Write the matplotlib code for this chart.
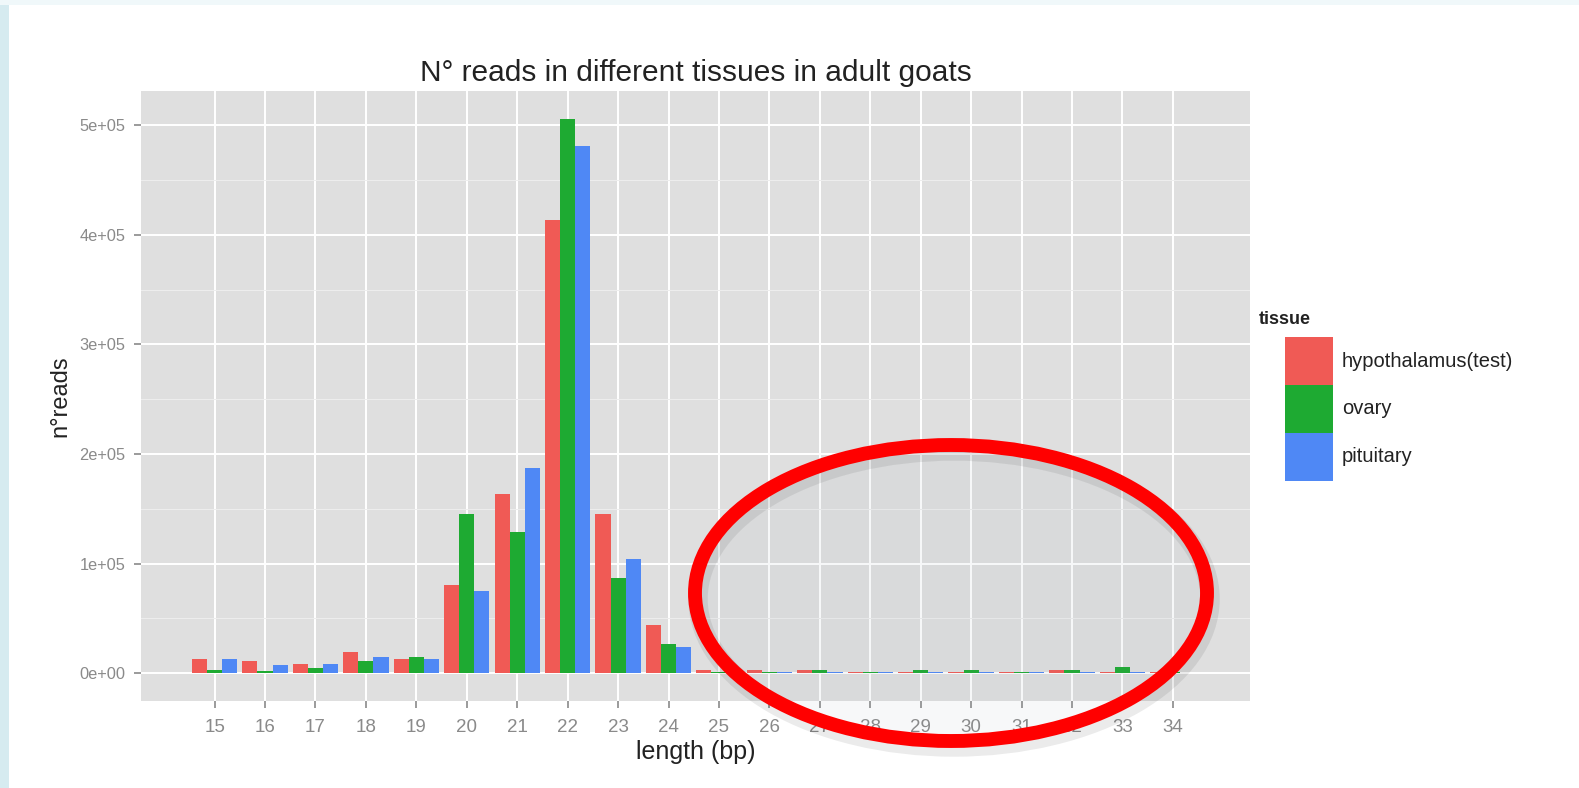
import numpy as np
import matplotlib
matplotlib.use("Agg")
import matplotlib.pyplot as plt
from matplotlib.patches import Rectangle, Ellipse

plt.rcParams['font.family'] = ['Liberation Sans', 'DejaVu Sans']

# ---------------- data ----------------
lengths = [15, 16, 17, 18, 19, 20, 21, 22, 23, 24, 25, 26, 27, 28, 29, 30, 31, 32, 33, 34]
tissues = ["hypothalamus(test)", "ovary", "pituitary"]
hypothalamus = [12800, 11000, 8900, 19000, 12800, 81000, 164000, 414000, 145000, 44000,
                3000, 3000, 3000, 1500, 1200, 1200, 1500, 3300, 1000, 800]
ovary = [3000, 2400, 5200, 11000, 14700, 145000, 129000, 506000, 87000, 27000,
         1200, 1000, 3000, 1500, 3300, 3300, 1500, 3000, 5500, 900]
pituitary = [12800, 7300, 8900, 14700, 12800, 75000, 187000, 481000, 104000, 24000,
             1000, 1000, 1000, 1500, 1200, 1200, 1500, 1200, 1200, 500]
series = [hypothalamus, ovary, pituitary]
colors = ["#F05A55", "#1EAA32", "#4F88F5"]
yticks = [0, 100000, 200000, 300000, 400000, 500000]
ytick_labels = ["0e+00", "1e+05", "2e+05", "3e+05", "4e+05", "5e+05"]

W, H = 1579, 788
fig = plt.figure(figsize=(W / 100, H / 100), dpi=100)
fig.patch.set_facecolor("white")

def fx(px):
    return px / W

def fy(py):
    return 1 - py / H

ax = fig.add_axes([fx(141), fy(701), fx(1250) - fx(141), fy(91) - fy(701)])
ax.set_facecolor("#DFDFDF")
for s in ax.spines.values():
    s.set_visible(False)

x = np.arange(len(lengths))
bw = 0.3
for i, (vals, c) in enumerate(zip(series, colors)):
    ax.bar(x + (i - 1) * bw, vals, width=bw, color=c, label=tissues[i], zorder=3, linewidth=0)

ax.set_xlim(-1.46, len(lengths) - 1 + 1.53)
ax.set_ylim(-25300, 531300)
ax.set_xticks(x)
ax.set_xticklabels([str(v) for v in lengths])
ax.set_yticks(yticks)
ax.set_yticklabels(ytick_labels)
ax.set_yticks([50000, 150000, 250000, 350000, 450000], minor=True)
ax.grid(True, which="major", color="white", linewidth=1.4, zorder=1)
ax.grid(True, which="minor", axis="y", color="#EEEEEE", linewidth=0.7, zorder=1)
ax.set_axisbelow(True)
ax.tick_params(axis="both", which="major", colors="#8A8A8A", length=5, width=1.2)
ax.tick_params(axis="y", which="major", labelsize=11.8, pad=6)
ax.tick_params(axis="x", which="major", labelsize=13.5, pad=8)
ax.tick_params(axis="y", which="minor", length=0)
for lab in ax.get_xticklabels() + ax.get_yticklabels():
    lab.set_color("#8A8A8A")

ax.set_xlabel("length (bp)", fontsize=18, color="#222222", labelpad=3)
ax.set_ylabel("n°reads", fontsize=17, color="#222222", labelpad=6)
ax.set_title("N° reads in different tissues in adult goats", fontsize=21.5, color="#222222", pad=7)

# legend (manual, ggplot style)
fig.text(fx(1259), fy(319), "tissue", fontsize=13, fontweight="bold", color="#222222", va="center", ha="left")
key_top = 337
key_h = 48
for i, (t, c) in enumerate(zip(tissues, colors)):
    y0 = key_top + i * key_h
    fig.add_artist(Rectangle((fx(1285), fy(y0 + key_h)), fx(48), fy(0) - fy(key_h),
                             transform=fig.transFigure, facecolor=c, edgecolor="none"))
    fig.text(fx(1342), fy(y0 + key_h / 2), t, fontsize=14.5, color="#222222", va="center", ha="left")

# light blue frame at left / top edge
fig.add_artist(Rectangle((0, 0), fx(9), 1, transform=fig.transFigure, facecolor="#D6EBF0", edgecolor="none"))
fig.add_artist(Rectangle((0, fy(5)), 1, 5 / H, transform=fig.transFigure, facecolor="#F0F8FA", edgecolor="none"))

# red ellipse annotation with faint shadow
cx, cy, ew, eh = 951, 593, 512, 296
fig.add_artist(Ellipse((fx(cx + 3), fy(cy + 6)), fx(ew), eh / H, transform=fig.transFigure,
                       facecolor="none", edgecolor="#000000", alpha=0.08, linewidth=14))
fig.add_artist(Ellipse((fx(cx), fy(cy)), fx(ew), eh / H, transform=fig.transFigure,
                       facecolor="#8090A0", alpha=0.06, edgecolor="none"))
fig.add_artist(Ellipse((fx(cx), fy(cy)), fx(ew), eh / H, transform=fig.transFigure,
                       facecolor="none", edgecolor="#FF0000", linewidth=10))

fig.savefig("out.png", dpi=100)
